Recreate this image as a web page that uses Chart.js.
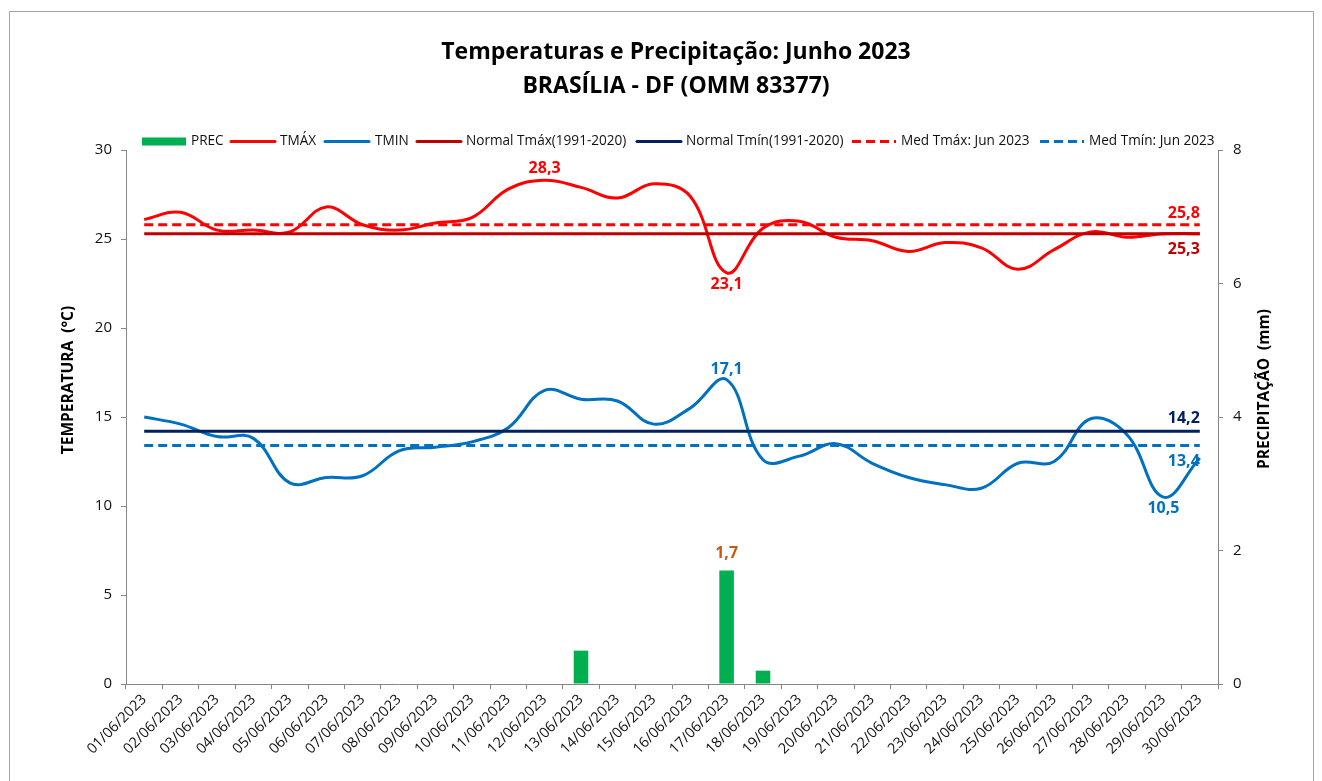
<!DOCTYPE html>
<html>
<head>
<meta charset="utf-8">
<script src="https://cdn.jsdelivr.net/npm/chart.js@4.4.0/dist/chart.umd.min.js"></script>
<style>
html,body{margin:0;padding:0;background:#fff;}
#wrap{position:relative;width:1322px;height:781px;overflow:hidden;}
canvas{display:block;}
</style>
</head>
<body>
<div id="wrap"><canvas id="c" width="1322" height="781"></canvas></div>
<script>
// ---------- DATA ----------
const dates = ['01/06/2023','02/06/2023','03/06/2023','04/06/2023','05/06/2023','06/06/2023','07/06/2023','08/06/2023','09/06/2023','10/06/2023',
               '11/06/2023','12/06/2023','13/06/2023','14/06/2023','15/06/2023','16/06/2023','17/06/2023','18/06/2023','19/06/2023','20/06/2023',
               '21/06/2023','22/06/2023','23/06/2023','24/06/2023','25/06/2023','26/06/2023','27/06/2023','28/06/2023','29/06/2023','30/06/2023'];
const tmax = [26.1,26.5,25.5,25.5,25.4,26.8,25.8,25.5,25.9,26.2,27.8,28.3,27.9,27.3,28.1,27.4,23.1,25.6,26.0,25.1,24.9,24.3,24.8,24.5,23.3,24.4,25.4,25.1,25.3,25.3];
const tmin = [15.0,14.6,13.9,13.8,11.3,11.6,11.7,13.1,13.3,13.6,14.4,16.5,16.0,15.9,14.6,15.5,17.1,12.6,12.8,13.5,12.4,11.6,11.2,11.0,12.4,12.5,14.9,14.0,10.5,12.7];
const prec = [0,0,0,0,0,0,0,0,0,0,0,0,0.5,0,0,0,1.7,0.2,0,0,0,0,0,0,0,0,0,0,0,0];
const normalTmax = 25.3;
const normalTmin = 14.2;
const medTmax = 25.8;
const medTmin = 13.4;
const seriesNames = ['PREC','TMÁX','TMIN','Normal Tmáx(1991-2020)','Normal Tmín(1991-2020)','Med Tmáx: Jun 2023','Med Tmín: Jun 2023'];
const titleLines = ['Temperaturas e Precipitação: Junho 2023','BRASÍLIA - DF (OMM 83377)'];
const yTitleLeft = 'TEMPERATURA  (°C)';
const yTitleRight = 'PRECIPITAÇÃO  (mm)';

// ---------- STYLE ----------
const FONT = "'Open Sans', 'Noto Sans', sans-serif";
const C_PREC = '#00B050', C_TMAX = '#FF0000', C_TMIN = '#0070C0', C_NTMAX = '#C00000', C_NTMIN = '#002060';
const AXIS = '#868686';
const fmt = v => v.toFixed(1).replace('.', ',');
const refLine = v => [{x: dates[0], y: v}, {x: dates[dates.length - 1], y: v}];

const datasets = [
  {type:'bar', label:seriesNames[0], data:prec, yAxisID:'yP', backgroundColor:C_PREC, barPercentage:0.4, categoryPercentage:1, order:10},
  {type:'line', label:seriesNames[1], data:tmax, yAxisID:'y', borderColor:C_TMAX, borderWidth:3, tension:0.4, pointRadius:0, order:6},
  {type:'line', label:seriesNames[2], data:tmin, yAxisID:'y', borderColor:C_TMIN, borderWidth:3, tension:0.4, pointRadius:0, order:5},
  {type:'line', label:seriesNames[3], data:refLine(normalTmax), yAxisID:'y', borderColor:C_NTMAX, borderWidth:3, pointRadius:0, order:4},
  {type:'line', label:seriesNames[4], data:refLine(normalTmin), yAxisID:'y', borderColor:C_NTMIN, borderWidth:3, pointRadius:0, order:3},
  {type:'line', label:seriesNames[5], data:refLine(medTmax), yAxisID:'y', borderColor:C_TMAX, borderWidth:3, borderDash:[9,5], pointRadius:0, order:2},
  {type:'line', label:seriesNames[6], data:refLine(medTmin), yAxisID:'y', borderColor:C_TMIN, borderWidth:3, borderDash:[9,5], pointRadius:0, order:1}
];

// legend layout (sample start x, text start x)
const legendLayout = [
  {sx:142, tx:191}, {sx:230, tx:280}, {sx:324, tx:375}, {sx:416, tx:466},
  {sx:636, tx:686}, {sx:851, tx:901}, {sx:1039, tx:1089}
];

const overlay = {
  id: 'overlay',
  beforeDraw(chart) {
    const ctx = chart.ctx;
    ctx.save();
    ctx.fillStyle = '#fff';
    ctx.fillRect(0, 0, chart.width, chart.height);
    ctx.strokeStyle = '#a6a6a6';
    ctx.lineWidth = 1;
    ctx.strokeRect(9.5, 11.5, 1304, 800);
    ctx.restore();
  },
  afterDatasetsDraw(chart) {
    const ctx = chart.ctx;
    ctx.save();
    ctx.font = 'bold 16px ' + FONT;
    ctx.textBaseline = 'middle';
    const put = (ds, idx, text, color, dy, align) => {
      const el = chart.getDatasetMeta(ds).data[idx];
      ctx.fillStyle = color;
      ctx.textAlign = align || 'center';
      ctx.fillText(text, el.x, el.y + dy);
    };
    const iMaxT = tmax.indexOf(Math.max(...tmax));
    const iMinT = tmax.indexOf(Math.min(...tmax));
    const iMaxN = tmin.indexOf(Math.max(...tmin));
    const iMinN = tmin.indexOf(Math.min(...tmin));
    const iMaxP = prec.indexOf(Math.max(...prec));
    put(1, iMaxT, fmt(tmax[iMaxT]), C_TMAX, -12);
    put(1, iMinT, fmt(tmax[iMinT]), C_TMAX, 12);
    put(2, iMaxN, fmt(tmin[iMaxN]), C_TMIN, -10);
    put(2, iMinN, fmt(tmin[iMinN]), C_TMIN, 11);
    put(0, iMaxP, fmt(prec[iMaxP]), '#C55A11', -17);
    put(5, 1, fmt(medTmax), C_TMAX, -11, 'right');
    put(3, 1, fmt(normalTmax), C_NTMAX, 16, 'right');
    put(4, 1, fmt(normalTmin), C_NTMIN, -13, 'right');
    put(6, 1, fmt(medTmin), C_TMIN, 16, 'right');
    ctx.restore();
  },
  afterDraw(chart) {
    const ctx = chart.ctx;
    ctx.save();
    // title
    ctx.fillStyle = '#000';
    ctx.textAlign = 'center';
    ctx.textBaseline = 'middle';
    ctx.font = 'bold 23px ' + FONT;
    ctx.fillText(titleLines[0], 676, 52);
    ctx.fillText(titleLines[1], 676, 86);
    // legend
    ctx.font = '13.6px ' + FONT;
    ctx.textAlign = 'left';
    const ly = 141.5;
    chart.data.datasets.forEach((ds, i) => {
      const L = legendLayout[i];
      if (ds.type === 'bar') {
        ctx.fillStyle = ds.backgroundColor;
        ctx.fillRect(L.sx, ly - 4, 44, 8);
      } else {
        ctx.save();
        ctx.strokeStyle = ds.borderColor;
        ctx.lineWidth = 3;
        ctx.lineCap = ds.borderDash ? 'butt' : 'round';
        ctx.setLineDash(ds.borderDash || []);
        ctx.beginPath();
        ctx.moveTo(L.sx + 1, ly);
        ctx.lineTo(L.sx + 45, ly);
        ctx.stroke();
        ctx.restore();
      }
      ctx.fillStyle = '#111';
      ctx.fillText(ds.label, L.tx, ly);
    });
    // axis titles
    ctx.font = 'bold 15.5px ' + FONT;
    ctx.fillStyle = '#000';
    ctx.textAlign = 'center';
    ctx.save();
    ctx.translate(69, 380);
    ctx.rotate(-Math.PI / 2);
    ctx.fillText(yTitleLeft, 0, 0);
    ctx.restore();
    ctx.save();
    ctx.translate(1265, 389);
    ctx.rotate(-Math.PI / 2);
    ctx.fillText(yTitleRight, 0, 0);
    ctx.restore();
    ctx.restore();
  }
};

new Chart(document.getElementById('c'), {
  data: {labels: dates, datasets: datasets},
  options: {
    responsive: false,
    devicePixelRatio: 1,
    animation: false,
    layout: {padding: {top: 150, left: 0, right: 0, bottom: 0}},
    plugins: {legend: {display: false}, title: {display: false}, tooltip: {enabled: false}},
    elements: {line: {cubicInterpolationMode: 'default', capBezierPoints: true}},
    scales: {
      x: {
        type: 'category', offset: true,
        grid: {display: true, drawOnChartArea: false, drawTicks: true, tickLength: 5, color: AXIS, offset: true},
        border: {display: true, color: AXIS, width: 1},
        ticks: {autoSkip: false, minRotation: 45, maxRotation: 45, padding: 2, color: '#111', font: {family: FONT, size: 14.5}},
        afterFit: s => { s.height = 97; }
      },
      y: {
        position: 'left', min: 0, max: 30,
        grid: {display: true, drawOnChartArea: false, drawTicks: true, tickLength: 5, color: AXIS},
        border: {display: true, color: AXIS, width: 1},
        ticks: {stepSize: 5, padding: 9, color: '#111', font: {family: FONT, size: 15}},
        afterFit: s => { s.width = 126; }
      },
      yP: {
        position: 'right', min: 0, max: 8,
        grid: {display: true, drawOnChartArea: false, drawTicks: true, tickLength: 5, color: AXIS},
        border: {display: true, color: AXIS, width: 1},
        ticks: {stepSize: 2, padding: 10, color: '#111', font: {family: FONT, size: 15}},
        afterFit: s => { s.width = 104; }
      }
    }
  },
  plugins: [overlay]
});
</script>
</body>
</html>
